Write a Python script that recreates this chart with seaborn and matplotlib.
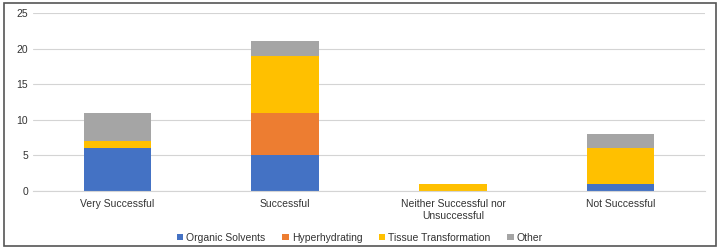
import numpy as np
import pandas as pd
import seaborn as sns
import matplotlib.pyplot as plt
from matplotlib.patches import Patch, Rectangle

categories = ["Very Successful", "Successful",
              "Neither Successful nor\nUnsuccessful", "Not Successful"]
series = ["Organic Solvents", "Hyperhydrating", "Tissue Transformation", "Other"]
organic = [6, 5, 0, 1]
hyper = [0, 6, 0, 0]
tissue = [1, 8, 1, 5]
other = [4, 2, 0, 2]
colors = ["#4472C4", "#ED7D31", "#FFC000", "#A5A5A5"]

sns.set_style("white")
plt.rcParams['font.family'] = ['Liberation Sans', 'DejaVu Sans']

fig = plt.figure(figsize=(7.2, 2.49), dpi=100)
ax = fig.add_axes([0.046, 0.233, 0.933, 0.715])

# stack the series one on top of the other
bottom = np.zeros(len(categories))
for name, vals, col in zip(series, [organic, hyper, tissue, other], colors):
    df = pd.DataFrame({'cat': categories, 'val': vals})
    sns.barplot(data=df, x='cat', y='val', color=col, width=0.4,
                bottom=bottom, ax=ax, saturation=1, edgecolor='none')
    bottom = bottom + np.array(vals)

ax.set_ylim(0, 25)
ax.set_yticks(range(0, 26, 5))
ax.grid(axis='y', color='#D4D4D4', linewidth=0.8)
ax.set_axisbelow(True)
for s in ['top', 'right', 'left']:
    ax.spines[s].set_visible(False)
ax.spines['bottom'].set_color('#D4D4D4')
ax.tick_params(axis='both', length=0, labelsize=7.5, colors='#333333')
ax.tick_params(axis='x', pad=6)
ax.set_xlabel('')
ax.set_ylabel('')

handles = [Patch(facecolor=c, edgecolor='none', label=n) for n, c in zip(series, colors)]
fig.legend(handles=handles, loc='center', bbox_to_anchor=(0.5, 0.045), ncol=4,
           frameon=False, fontsize=7.5, handlelength=0.6, handleheight=0.6,
           handletextpad=0.3, columnspacing=1.6, labelcolor='#333333')

fig.patches.append(Rectangle((0.005, 0.012), 0.99, 0.975, transform=fig.transFigure,
                             fill=False, edgecolor='#555555', linewidth=1.2))

fig.savefig('out.png', dpi=100)
